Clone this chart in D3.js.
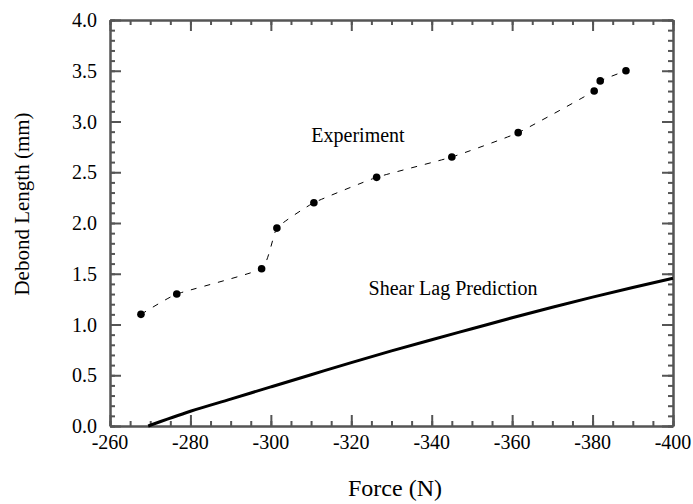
<!DOCTYPE html>
<html>
<head>
<meta charset="utf-8">
<script src="https://cdn.jsdelivr.net/npm/d3@7"></script>
<style>
	body { margin: 0; background: #fff; }
</style>
</head>
<body>
<div id="chart"></div>
<script>
// Experiment (measured debond length vs force)
const expForce = [-267.7, -276.6, -297.7, -301.5, -310.7, -326.3, -345.0, -361.5, -380.4, -381.9, -388.3];
const expLength = [1.10, 1.30, 1.55, 1.95, 2.20, 2.45, 2.65, 2.89, 3.30, 3.40, 3.50];

// Shear lag prediction
const lagForce = [-269.5, -280, -290, -300, -310, -320, -330, -340, -350, -360, -370, -380, -390, -400];
const lagLength = [0, 0.145, 0.265, 0.385, 0.505, 0.625, 0.740, 0.850, 0.958, 1.066, 1.170, 1.270, 1.365, 1.455];

const xTicks = [-260, -280, -300, -320, -340, -360, -380, -400];
const yTicks = [0, 0.5, 1.0, 1.5, 2.0, 2.5, 3.0, 3.5, 4.0];

const width = 693, height = 504;
const margin = {top: 20, right: 20, bottom: 78, left: 110};
const innerW = width - margin.left - margin.right;
const innerH = height - margin.top - margin.bottom;
const axisColor = "#555";
const serif = "'Liberation Serif', 'Times New Roman', Times, serif";

const svg = d3.select("#chart").append("svg")
	.attr("width", width)
	.attr("height", height)
	.attr("font-family", serif)
	.style("font-family", serif);

const g = svg.append("g")
	.attr("transform", "translate(" + margin.left + "," + margin.top + ")");

const x = d3.scaleLinear().domain([-260, -400]).range([0, innerW]);
const y = d3.scaleLinear().domain([0, 4]).range([innerH, 0]);

const xMinor = d3.range(-260, -401, -5);
const yMinor = d3.range(0, 41).map(d => d / 10);

// ticks on all four sides, pointing inward
function drawAxis(axisGen, tx, ty, values, size) {
	const a = g.append("g")
		.attr("transform", "translate(" + tx + "," + ty + ")")
		.call(axisGen.tickValues(values).tickSize(size).tickSizeOuter(0).tickFormat(""));
	a.select(".domain").attr("stroke", axisColor).attr("stroke-width", 2);
	a.selectAll(".tick line").attr("stroke", axisColor).attr("stroke-width", 2);
	return a;
}
drawAxis(d3.axisTop(x), 0, innerH, xMinor, 5);
drawAxis(d3.axisTop(x), 0, innerH, xTicks, 11);
drawAxis(d3.axisBottom(x), 0, 0, xMinor, 5);
drawAxis(d3.axisBottom(x), 0, 0, xTicks, 11);
drawAxis(d3.axisRight(y), 0, 0, yMinor, 5);
drawAxis(d3.axisRight(y), 0, 0, yTicks, 11);
drawAxis(d3.axisLeft(y), innerW, 0, yMinor, 5);
drawAxis(d3.axisLeft(y), innerW, 0, yTicks, 11);

// tick labels
g.append("g").selectAll("text")
	.data(xTicks)
	.enter().append("text")
	.attr("x", d => x(d))
	.attr("y", innerH + 23)
	.attr("text-anchor", "middle")
	.style("font-size", "20px")
	.text(d => d);

g.append("g").selectAll("text")
	.data(yTicks)
	.enter().append("text")
	.attr("x", -13)
	.attr("y", d => y(d))
	.attr("dy", "0.35em")
	.attr("text-anchor", "end")
	.style("font-size", "20px")
	.text(d => d3.format(".1f")(d));

// shear lag prediction
g.append("path")
	.datum(d3.zip(lagForce, lagLength))
	.attr("d", d3.line().x(d => x(d[0])).y(d => y(d[1])).curve(d3.curveMonotoneX))
	.attr("fill", "none")
	.attr("stroke", "#000")
	.attr("stroke-width", 3);

// experiment
const expData = d3.zip(expForce, expLength);
g.append("path")
	.datum(expData)
	.attr("d", d3.line().x(d => x(d[0])).y(d => y(d[1])).curve(d3.curveCardinal.tension(0.6)))
	.attr("fill", "none")
	.attr("stroke", "#000")
	.attr("stroke-width", 1)
	.attr("stroke-dasharray", "6,8");

g.selectAll("circle.exp")
	.data(expData)
	.enter().append("circle")
	.classed("exp", true)
	.attr("cx", d => x(d[0]))
	.attr("cy", d => y(d[1]))
	.attr("r", 3.8)
	.attr("fill", "#000");

// annotations
svg.append("text")
	.attr("x", 358)
	.attr("y", 142)
	.attr("text-anchor", "middle")
	.style("font-size", "20px")
	.text("Experiment");

svg.append("text")
	.attr("x", 453)
	.attr("y", 295)
	.attr("text-anchor", "middle")
	.style("font-size", "20px")
	.text("Shear Lag Prediction");

// axis titles
svg.append("text")
	.attr("x", 395)
	.attr("y", 496)
	.attr("text-anchor", "middle")
	.style("font-size", "24px")
	.text("Force (N)");

svg.append("text")
	.attr("transform", "translate(29," + 204 + ") rotate(-90)")
	.attr("text-anchor", "middle")
	.style("font-size", "21px")
	.text("Debond Length (mm)");
</script>
</body>
</html>
